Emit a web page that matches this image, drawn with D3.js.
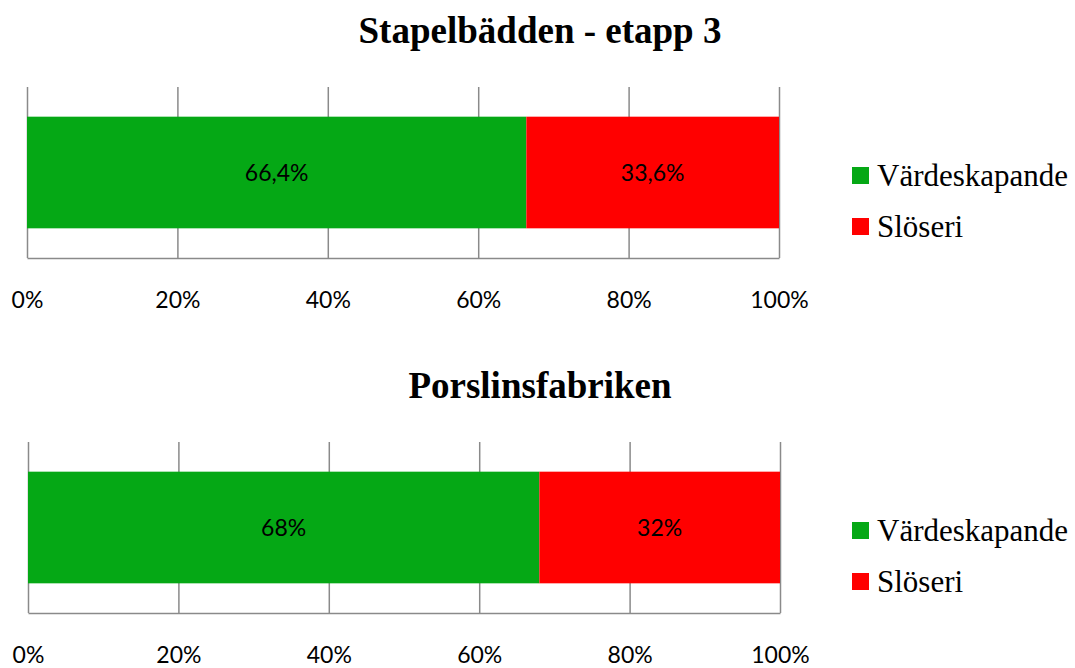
<!DOCTYPE html>
<html>
<head>
<meta charset="utf-8">
<script src="https://cdn.jsdelivr.net/npm/d3@7"></script>
<style>
  html, body { margin: 0; padding: 0; background: #fff; }
  svg { display: block; }
</style>
</head>
<body>
<svg id="chart" width="1075" height="668"></svg>
<script>
// Share of value-adding time vs. waste, one stacked 100% bar per site
const panelTitles = ["Stapelbädden - etapp 3", "Porslinsfabriken"];
const seriesNames = ["Värdeskapande", "Slöseri"];
const vardeskapande = [66.4, 68];
const sloseri = [33.6, 32];
const tickValues = [0, 20, 40, 60, 80, 100];
const tickLabels = ["0%", "20%", "40%", "60%", "80%", "100%"];
const seriesColors = ["#05a815", "#ff0000"];

const svg = d3.select("#chart");

// vertical layout of each panel
const panelTop = [0, 355];
const plotX = [[27, 779], [28, 780]];
const gridTop = 87, gridBottom = 258;

const fmtPct = v => String(v).replace(".", ",") + "%";

panelTitles.forEach((title, i) => {
  const g = svg.append("g").attr("transform", `translate(0,${panelTop[i]})`);

  const x = d3.scaleLinear().domain([0, 100]).range(plotX[i]);
  const y = d3.scaleBand().domain([title]).range([gridTop, gridBottom]).padding(0.21);

  // title
  g.append("text")
    .attr("x", 540).attr("y", 43)
    .attr("text-anchor", "middle")
    .style("font-family", "'Liberation Serif', 'Times New Roman', serif")
    .style("font-weight", "bold")
    .style("font-size", "37px")
    .text(title);

  // gridlines + axis
  const axis = d3.axisBottom(x)
    .tickValues(tickValues)
    .tickFormat((d, k) => tickLabels[k])
    .tickSizeInner(-(gridBottom - gridTop))
    .tickSizeOuter(0)
    .tickPadding(34);

  const ax = g.append("g")
    .attr("transform", `translate(0,${gridBottom})`)
    .call(axis);
  ax.select(".domain").attr("stroke", "#8a8a8a").attr("stroke-width", 1.5);
  ax.selectAll(".tick line").attr("stroke", "#8a8a8a").attr("stroke-width", 1.5);
  ax.selectAll(".tick text")
    .style("font-family", "Lato, 'Open Sans', sans-serif")
    .style("font-size", "23px")
    .attr("fill", "#000");

  // stacked segments
  const values = [vardeskapande[i], sloseri[i]];
  let acc = 0;
  const segs = values.map((v, k) => {
    const s = { start: acc, end: acc + v, value: v, color: seriesColors[k] };
    acc += v;
    return s;
  });

  g.selectAll("rect.seg").data(segs).join("rect")
    .attr("class", "seg")
    .attr("x", d => x(d.start))
    .attr("width", d => x(d.end) - x(d.start))
    .attr("y", y(title))
    .attr("height", y.bandwidth())
    .attr("fill", d => d.color);

  g.selectAll("text.val").data(segs).join("text")
    .attr("class", "val")
    .attr("x", d => (x(d.start) + x(d.end)) / 2)
    .attr("y", y(title) + y.bandwidth() / 2)
    .attr("dy", "0.36em")
    .attr("text-anchor", "middle")
    .style("font-family", "Lato, 'Open Sans', sans-serif")
    .style("font-size", "23px")
    .attr("fill", "#000")
    .text(d => fmtPct(d.value));

  // legend
  const lg = g.append("g");
  seriesNames.forEach((name, k) => {
    lg.append("rect")
      .attr("x", 852).attr("y", 167 + k * 51)
      .attr("width", 17).attr("height", 17)
      .attr("fill", seriesColors[k]);
    lg.append("text")
      .attr("x", 877).attr("y", 186 + k * 51)
      .style("font-family", "'Liberation Serif', 'Times New Roman', serif")
      .style("font-size", "31px")
      .attr("fill", "#000")
      .text(name);
  });
});
</script>
</body>
</html>
